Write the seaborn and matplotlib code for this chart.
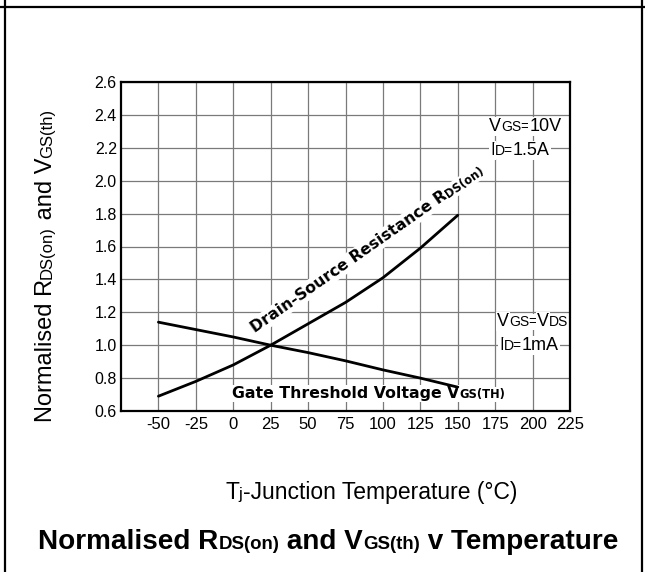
import numpy as np
import pandas as pd
import seaborn as sns
import matplotlib
matplotlib.use("Agg")
import matplotlib.pyplot as plt
from matplotlib.transforms import offset_copy
from matplotlib.lines import Line2D

# ---- data ----
temp_rds = [-50, -25, 0, 25, 50, 75, 100, 125, 150]
rds_on = [0.69, 0.78, 0.88, 1.00, 1.13, 1.26, 1.41, 1.59, 1.79]
temp_vgs = [-50, -25, 0, 25, 50, 75, 100, 125, 150]
vgs_th = [1.14, 1.095, 1.05, 1.00, 0.955, 0.905, 0.85, 0.80, 0.745]
x_ticks = [-50, -25, 0, 25, 50, 75, 100, 125, 150, 175, 200, 225]
y_ticks = [0.6, 0.8, 1.0, 1.2, 1.4, 1.6, 1.8, 2.0, 2.2, 2.4, 2.6]

df_rds = pd.DataFrame({"Tj": temp_rds, "value": rds_on})
df_vgs = pd.DataFrame({"Tj": temp_vgs, "value": vgs_th})

sns.set_style("white")
plt.rcParams["font.family"] = ["Liberation Sans", "DejaVu Sans"]
plt.rcParams["text.color"] = "black"
plt.rcParams["axes.labelcolor"] = "black"
plt.rcParams["xtick.color"] = "black"
plt.rcParams["ytick.color"] = "black"

W, H, DPI = 645, 572, 100
fig = plt.figure(figsize=(W / DPI, H / DPI), dpi=DPI)
renderer = fig.canvas.get_renderer()

L, R, T, B = 121, 570, 82, 411
ax = fig.add_axes([L / W, 1 - B / H, (R - L) / W, (B - T) / H])

sns.lineplot(data=df_rds, x="Tj", y="value", ax=ax, color="black", linewidth=2.0, zorder=3)
sns.lineplot(data=df_vgs, x="Tj", y="value", ax=ax, color="black", linewidth=2.0, zorder=3)

ax.set_xlim(-75, 225)
ax.set_ylim(0.6, 2.6)
ax.set_xticks(x_ticks)
ax.set_xticklabels([str(v) for v in x_ticks])
ax.set_yticks(y_ticks)
ax.set_yticklabels([f"{v:.1f}" for v in y_ticks])
ax.set_xlabel("")
ax.set_ylabel("")
ax.grid(True, color="#7a7a7a", linewidth=0.9)
ax.set_axisbelow(True)
for s in ax.spines.values():
    s.set_color("black")
    s.set_linewidth(1.6)
ax.tick_params(axis="x", length=0, pad=4, labelsize=12, labelcolor="black")
ax.tick_params(axis="y", length=0, pad=3, labelsize=11.5, labelcolor="black")


def measure(s, **kw):
    t = fig.text(0, 0, "X" + s + "X", **kw)
    w1 = t.get_window_extent(renderer).width
    t.remove()
    t = fig.text(0, 0, "XX", **kw)
    w2 = t.get_window_extent(renderer).width
    t.remove()
    return (w1 - w2) * 72 / DPI


def rich(target, x, y, pieces, transform, rotation=0, ha="left", common=None):
    common = dict(color="black", **(common or {}))
    widths = [measure(s, **common, **kw) for s, kw in pieces]
    total = sum(widths)
    c, sn = np.cos(np.radians(rotation)), np.sin(np.radians(rotation))
    cum = 0 if ha == "left" else -total / 2
    for (s, kw), w in zip(pieces, widths):
        tr = offset_copy(transform, fig=fig, x=cum * c, y=cum * sn, units="points")
        target.text(x, y, s, transform=tr, rotation=rotation, rotation_mode="anchor",
                    ha="left", va="baseline", **common, **kw)
        cum += w


def px(xp, yp):
    return xp / W, 1 - yp / H


# curve labels (bold, white box interrupting grid, curves drawn above)
lab_common = dict(family=["DejaVu Sans"], fontweight="bold",
                  bbox=dict(facecolor="white", edgecolor="none", pad=1.0), zorder=2.5)
rich(ax, 14.5, 1.074,
     [("Drain-Source Resistance R", dict(fontsize=11.3)), ("DS(on)", dict(fontsize=8.3))],
     ax.transData, rotation=35, common=lab_common)
rich(ax, -1.0, 0.679,
     [("Gate Threshold Voltage V", dict(fontsize=11.3)), ("GS(TH)", dict(fontsize=8.3))],
     ax.transData, common=lab_common)

# condition annotations
ann_common = dict(bbox=dict(facecolor="white", edgecolor="none", pad=0.5), zorder=2.5)
big, small = dict(fontsize=13), dict(fontsize=10)
rich(ax, 170.9, 2.302, [("V", big), ("GS=", small), ("10V", big)], ax.transData, common=ann_common)
rich(ax, 171.5, 2.156, [("I", big), ("D=", small), ("1.5A", big)], ax.transData, common=ann_common)
rich(ax, 176.2, 1.117, [("V", big), ("GS=", small), ("V", big), ("DS", small)], ax.transData, common=ann_common)
rich(ax, 177.6, 0.971, [("I", big), ("D=", small), ("1mA", big)], ax.transData, common=ann_common)

# axis labels
yb, ys = dict(fontsize=17), dict(fontsize=12)
rich(fig, *px(52, 422),
     [("Normalised R", yb), ("DS(on)", ys), (" and V", yb), ("GS(th)", ys)],
     fig.transFigure, rotation=90)
rich(fig, *px(225, 499),
     [("T", dict(fontsize=16.5)), ("j", dict(fontsize=12)), ("-Junction Temperature (°C)", dict(fontsize=16.5))],
     fig.transFigure)

# title
tb, ts = dict(fontsize=20.1, fontweight="bold"), dict(fontsize=13.4, fontweight="bold")
rich(fig, *px(38, 549),
     [("Normalised R", tb), ("DS(on)", ts), (" and V", tb), ("GS(th)", ts), (" v Temperature", tb)],
     fig.transFigure)

# surrounding table-cell frame
fig.add_artist(Line2D([0, 1], [1 - 7 / H] * 2, transform=fig.transFigure, color="black", lw=1.6))
fig.add_artist(Line2D([5 / W] * 2, [0, 1], transform=fig.transFigure, color="black", lw=1.6))
fig.add_artist(Line2D([642 / W] * 2, [0, 1], transform=fig.transFigure, color="black", lw=1.6))

fig.savefig("out.png", dpi=DPI)
